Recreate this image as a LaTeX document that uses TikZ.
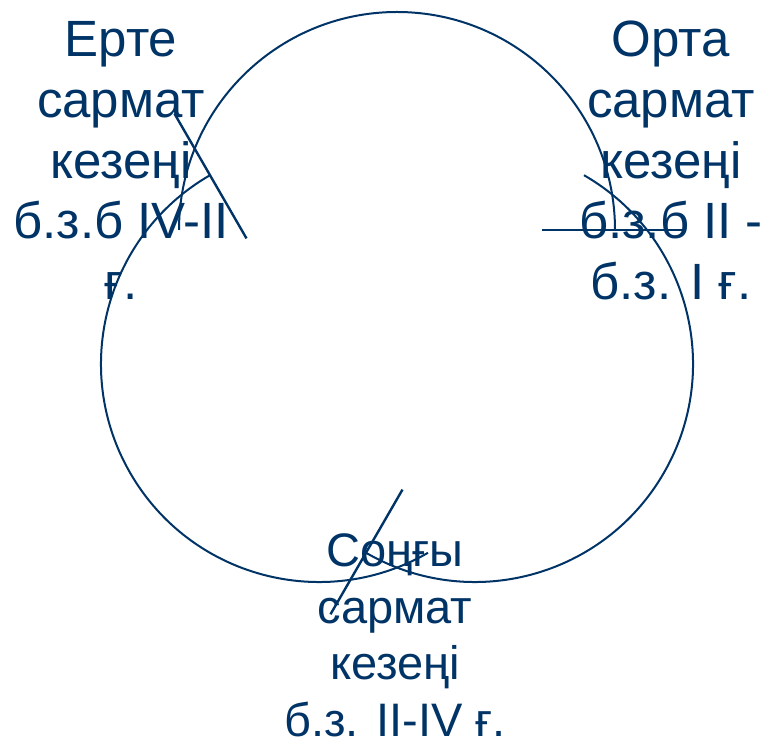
\documentclass[tikz,border=0pt]{standalone}
\usepackage{fontspec}
\setmainfont{Liberation Sans}
\definecolor{navy}{RGB}{0,51,102}
\tikzset{
  arcline/.style={draw=navy, line width=2pt},
  tipline/.style={draw=navy, line width=2.4pt},
  lbl/.style={text=navy, inner sep=0pt, anchor=base, font=\fontsize{51}{60}\selectfont},
  lblsmall/.style={lbl, font=\fontsize{47}{56}\selectfont}
}
\begin{document}
\begin{tikzpicture}[x=1pt,y=1pt]
\useasboundingbox (0,0) rectangle (765,741);
% centres of the three arcs (y up)
\coordinate (ca) at (397,511);
\coordinate (cb) at (475,377);
\coordinate (cc) at (319,377);
% arcs
\draw[arcline] ([shift={(180:218)}]ca) arc[start angle=180, end angle=0, radius=218];
\draw[arcline] ([shift={(60:218)}]cb) arc[start angle=60, end angle=-120, radius=218];
\draw[arcline] ([shift={(300:218)}]cc) arc[start angle=300, end angle=120, radius=218];
% radial strokes at the arc ends
\coordinate (ta1) at ([shift={(0:145)}]ca);
\coordinate (ta2) at ([shift={(0:289)}]ca);
\coordinate (tb1) at ([shift={(240:145)}]cb);
\coordinate (tb2) at ([shift={(240:289)}]cb);
\coordinate (tc1) at ([shift={(120:145)}]cc);
\coordinate (tc2) at ([shift={(120:289)}]cc);
\draw[tipline] (ta1) -- (ta2);
\draw[tipline] (tb1) -- (tb2);
\draw[tipline] (tc1) -- (tc2);
% left label
\node[lbl] (l1) at (121,684) {Ерте};
\node[lbl] (l2) at (121,623.4) {сармат};
\node[lbl] (l3) at (121,562.8) {кезеңі};
\node[lbl] (l4) at (121,502.2) {б.з.б IV-II};
\node[lbl] (l5) at (121,441.6) {ғ.};
% right label
\node[lbl] (r1) at (671,684) {Орта};
\node[lbl] (r2) at (671,623.4) {сармат};
\node[lbl] (r3) at (671,562.8) {кезеңі};
\node[lbl] (r4) at (671,502.2) {б.з.б II -};
\node[lbl] (r5) at (671,441.6) {б.з. I ғ.};
% bottom label
\node[lblsmall] (b1) at (395,174) {Соңғы};
\node[lblsmall] (b2) at (395,117.6) {сармат};
\node[lblsmall] (b3) at (395,61.3) {кезеңі};
\node[lblsmall] (b4) at (395,5) {б.з. II-IV ғ.};
\end{tikzpicture}
\end{document}
